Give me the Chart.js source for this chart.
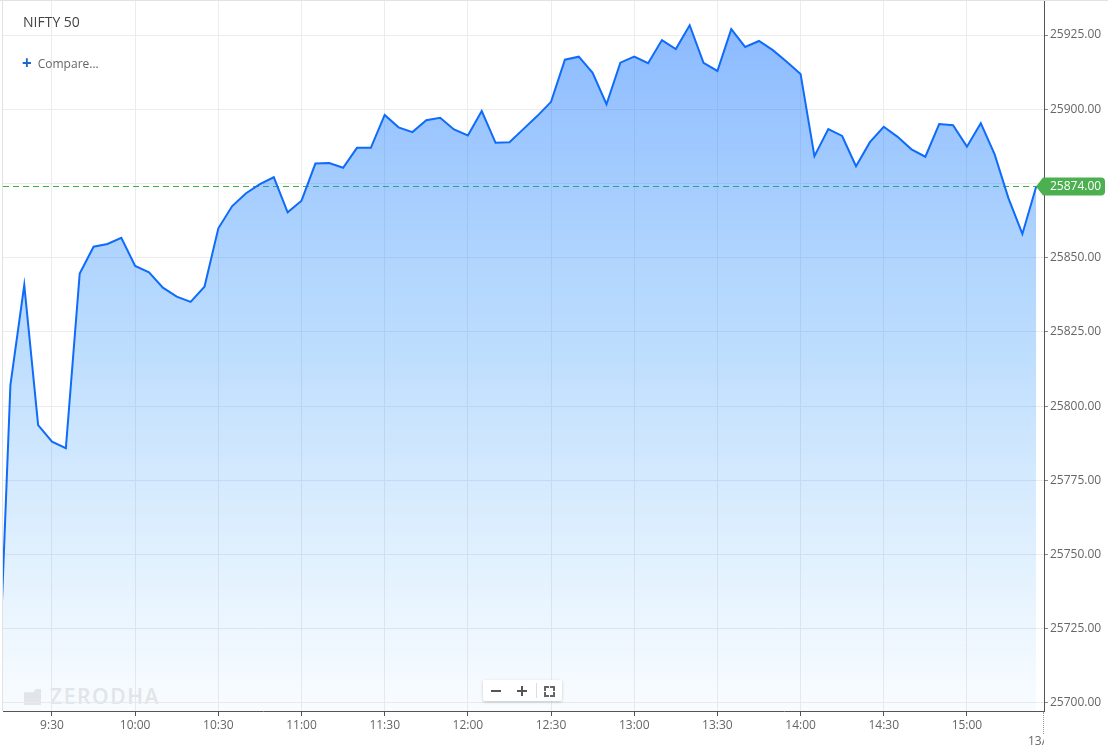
<!doctype html>
<html lang="en">
  <head>
    <meta charset="utf-8">
    <title>NIFTY 50</title>
    <script src="https://cdn.jsdelivr.net/npm/chart.js@4"></script>
    <style>
      body { margin: 0; background: #fff; font-family: "Open Sans", sans-serif; }
      .wrap { position: relative; width: 1108px; height: 750px; overflow: hidden; }
      .wrap canvas { position: absolute; left: 0; top: 0; z-index: 2; }
      .title { position: absolute; left: 23px; top: 12px; font-size: 14px; color: #444; z-index: 3; }
      .compare { position: absolute; left: 22px; top: 50px; font-size: 12px; color: #666; z-index: 3; }
      .compare .plus { color: #1a66d2; font-weight: 700; font-size: 17px; margin-right: 6px; position: relative; top: 1px; }
      .watermark { position: absolute; left: 24px; top: 682px; z-index: 1; color: #e9e9e9; font-size: 21px; font-weight: 600; letter-spacing: 1.6px; }
      .watermark .logo { display: inline-block; width: 17px; height: 16px; background: #e9e9e9; margin-right: 9px; vertical-align: -1px;
        clip-path: polygon(0 20%, 55% 20%, 70% 0, 100% 0, 100% 100%, 0 100%); }
      .zoomctl { position: absolute; left: 483px; top: 680px; width: 79px; height: 21px; background: #fff; z-index: 3;
        box-shadow: 0 1px 3px rgba(0,0,0,0.22); border-radius: 2px; }
      .zoomctl .minus { position: absolute; left: 8px; top: 10px; width: 10px; height: 2px; background: #555; }
      .zoomctl .p1 { position: absolute; left: 34px; top: 10px; width: 10px; height: 2px; background: #555; }
      .zoomctl .p2 { position: absolute; left: 38px; top: 6px; width: 2px; height: 10px; background: #555; }
      .zoomctl .sep { position: absolute; left: 53px; top: 3px; width: 1px; height: 15px; background: #ddd; }
      .zoomctl .c { position: absolute; width: 3px; height: 3px; border-color: #666; border-style: solid; border-width: 0; }
      .zoomctl .c1 { left: 61px; top: 6px; border-top-width: 2px; border-left-width: 2px; }
      .zoomctl .c2 { left: 67px; top: 6px; border-top-width: 2px; border-right-width: 2px; }
      .zoomctl .c3 { left: 61px; top: 12px; border-bottom-width: 2px; border-left-width: 2px; }
      .zoomctl .c4 { left: 67px; top: 12px; border-bottom-width: 2px; border-right-width: 2px; }
      .datecut { position: absolute; left: 1028px; top: 732px; width: 16px; height: 16px; overflow: hidden; font-size: 12px; color: #666; z-index: 3; white-space: nowrap; }
      .datedot { position: absolute; left: 1043px; top: 712px; height: 22px; border-left: 1px dotted #999; z-index: 3; }
    </style>
  </head>
  <body>
    <div class="wrap">
      <div class="watermark"><span class="logo"></span>ZERODHA</div>
      <canvas id="niftyChart" width="1108" height="750"></canvas>
      <div class="title">NIFTY 50</div>
      <div class="compare"><span class="plus">+</span>Compare...</div>
      <div class="zoomctl"><span class="minus"></span><span class="p1"></span><span class="p2"></span><span class="sep"></span>
        <span class="c c1"></span><span class="c c2"></span><span class="c c3"></span><span class="c c4"></span></div>
      <div class="datedot"></div>
      <div class="datecut">13/12</div>
    </div>
    <script>
      // 5-minute closes
      const times = [
        '9:10', '9:15', '9:20', '9:25', '9:30', '9:35', '9:40', '9:45', '9:50', '9:55',
        '10:00', '10:05', '10:10', '10:15', '10:20', '10:25', '10:30', '10:35', '10:40', '10:45', '10:50', '10:55',
        '11:00', '11:05', '11:10', '11:15', '11:20', '11:25', '11:30', '11:35', '11:40', '11:45', '11:50', '11:55',
        '12:00', '12:05', '12:10', '12:15', '12:20', '12:25', '12:30', '12:35', '12:40', '12:45', '12:50', '12:55',
        '13:00', '13:05', '13:10', '13:15', '13:20', '13:25', '13:30', '13:35', '13:40', '13:45', '13:50', '13:55',
        '14:00', '14:05', '14:10', '14:15', '14:20', '14:25', '14:30', '14:35', '14:40', '14:45', '14:50', '14:55',
        '15:00', '15:05', '15:10', '15:15', '15:20', '15:25'
      ];
      const prices = [
        25687.0, 25807.1, 25840.8, 25793.6, 25788.0, 25785.8, 25844.7, 25853.7, 25854.6, 25856.7,
        25847.2, 25845.1, 25839.9, 25836.9, 25835.1, 25840.2, 25859.9, 25867.4, 25871.7, 25874.8, 25877.1, 25865.3,
        25869.2, 25881.7, 25881.9, 25880.3, 25887.0, 25887.0, 25898.1, 25893.9, 25892.3, 25896.3, 25897.1, 25893.2,
        25891.2, 25899.4, 25888.7, 25888.9, 25893.3, 25897.7, 25902.5, 25916.7, 25917.7, 25912.3, 25901.7, 25915.7,
        25917.7, 25915.5, 25923.3, 25920.3, 25928.3, 25915.6, 25912.9, 25927.0, 25921.0, 25923.0, 25919.9, 25916.0,
        25911.9, 25884.2, 25893.3, 25891.0, 25880.8, 25888.9, 25894.1, 25890.7, 25886.5, 25884.0, 25895.0, 25894.6,
        25887.4, 25895.3, 25884.8, 25870.0, 25858.0, 25874.0
      ];
      const xTicks = ['9:30', '10:00', '10:30', '11:00', '11:30', '12:00', '12:30', '13:00', '13:30', '14:00', '14:30', '15:00'];
      const yTicks = [25700, 25725, 25750, 25775, 25800, 25825, 25850, 25875, 25900, 25925];
      const lastPrice = 25874.00;

      const toMin = s => { const p = s.split(':'); return +p[0] * 60 + +p[1]; };
      const fmtMin = v => Math.floor(v / 60) + ':' + String(v % 60).padStart(2, '0');
      const tickFont = { family: 'Open Sans', size: 12 };
      // keep the plot flush with the top edge (no room reserved for tick labels)
      const noPad = s => { s.paddingTop = 0; s.paddingBottom = 0; s.paddingLeft = 0; s.paddingRight = 0; };

      // dashed last-price line goes under the fill, the tag goes on top
      const lastPriceLine = {
        id: 'lastPriceLine',
        beforeDatasetsDraw(chart) {
          const { ctx, chartArea: a } = chart;
          const y = Math.round(chart.scales.y.getPixelForValue(lastPrice)) + 0.5;
          ctx.save();
          ctx.strokeStyle = '#43b047';
          ctx.lineWidth = 1;
          ctx.setLineDash([6, 4]);
          ctx.beginPath();
          ctx.moveTo(a.left, y);
          ctx.lineTo(a.right, y);
          ctx.stroke();
          ctx.restore();
        },
        afterDraw(chart) {
          const { ctx, chartArea: a } = chart;
          const y = chart.scales.y.getPixelForValue(lastPrice);
          const tip = a.right - 8, l = a.right - 1, r = 1105, h = 9;
          ctx.save();
          // frame lines
          ctx.fillStyle = '#e2e2e2';
          ctx.fillRect(0, 0, 1108, 1);
          ctx.fillRect(2, 0, 1, a.bottom);
          ctx.fillStyle = '#4caf50';
          ctx.beginPath();
          ctx.moveTo(tip, y);
          ctx.lineTo(l, y - h);
          ctx.lineTo(r - 4, y - h);
          ctx.quadraticCurveTo(r, y - h, r, y - h + 4);
          ctx.lineTo(r, y + h - 4);
          ctx.quadraticCurveTo(r, y + h, r - 4, y + h);
          ctx.lineTo(l, y + h);
          ctx.closePath();
          ctx.fill();
          ctx.fillStyle = '#fff';
          ctx.font = '12px "Open Sans"';
          ctx.textBaseline = 'middle';
          ctx.fillText(lastPrice.toFixed(2), a.right + 6, y + 0.5);
          ctx.restore();
        }
      };

      new Chart(document.getElementById('niftyChart'), {
        type: 'line',
        data: {
          datasets: [{
            data: times.map((t, i) => ({ x: toMin(t), y: prices[i] })),
            borderColor: '#0f6bfa',
            borderWidth: 2,
            pointRadius: 0,
            tension: 0,
            fill: 'start',
            backgroundColor: c => {
              const a = c.chart.chartArea;
              if (!a) return 'rgba(10,108,255,0.3)';
              const g = c.chart.ctx.createLinearGradient(0, a.top, 0, a.bottom);
              g.addColorStop(0, 'rgba(15,110,255,0.5)');
              g.addColorStop(0.5, 'rgba(40,145,250,0.3)');
              g.addColorStop(1, 'rgba(60,165,250,0.03)');
              return g;
            }
          }]
        },
        options: {
          responsive: false,
          animation: false,
          layout: { padding: { left: 3, top: 0, right: 0, bottom: 0 } },
          plugins: { legend: { display: false }, tooltip: { enabled: false } },
          scales: {
            x: {
              type: 'linear',
              min: 552.33,
              max: 927.8,
              afterBuildTicks: s => { s.ticks = xTicks.map(t => ({ value: toMin(t) })); },
              afterFit: s => { s.height = 39; noPad(s); },
              ticks: { callback: v => fmtMin(v), color: '#666', font: tickFont, padding: 2, maxRotation: 0, autoSkip: false },
              grid: { color: '#ececec', tickColor: '#555', tickLength: 5 },
              border: { color: '#555' }
            },
            y: {
              position: 'right',
              min: 25697.3,
              max: 25936.8,
              afterBuildTicks: s => { s.ticks = yTicks.map(v => ({ value: v })); },
              afterFit: s => { s.width = 64; noPad(s); },
              ticks: { callback: v => v.toFixed(2), color: '#666', font: tickFont, padding: 2 },
              grid: { color: '#ececec', tickColor: '#888', tickLength: 4 },
              border: { color: '#555' }
            }
          }
        },
        plugins: [lastPriceLine]
      });
    </script>
  </body>
</html>
